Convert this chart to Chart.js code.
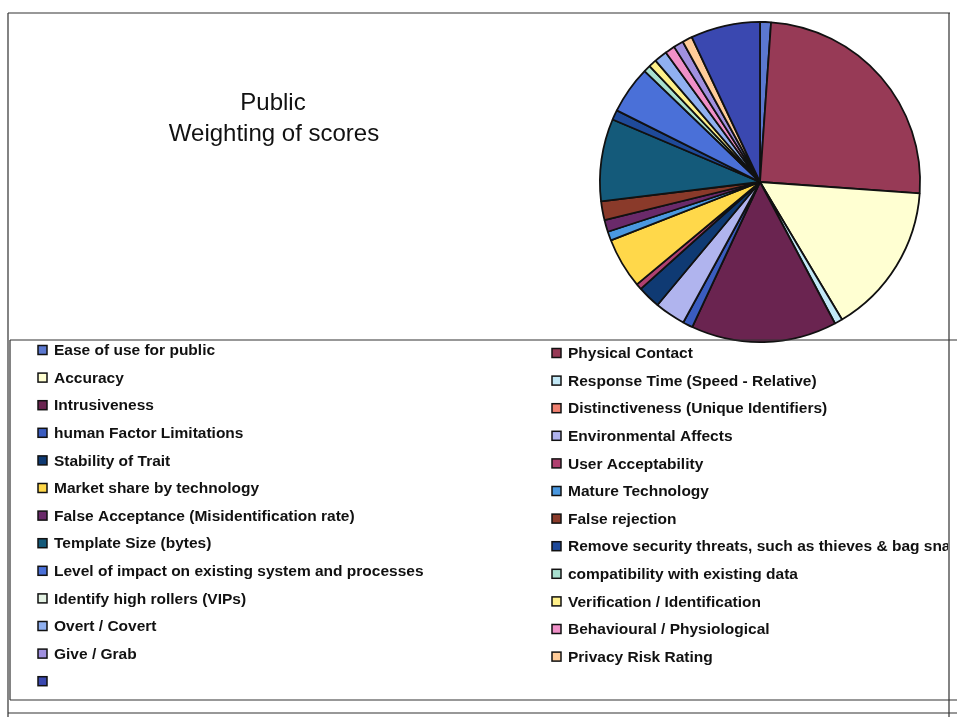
<!DOCTYPE html>
<html>
<head>
<meta charset="utf-8">
<title>Public - Weighting of scores</title>
<script src="https://cdn.jsdelivr.net/npm/chart.js@4/dist/chart.umd.min.js"></script>
<style>
  html, body { margin: 0; padding: 0; background: #fff; }
  #wrap { width: 957px; height: 717px; position: relative; }
</style>
</head>
<body>
<div id="wrap"><canvas id="pie" width="957" height="717"></canvas></div>
<script>
// Criteria, in series order (legend reads row by row, two per row)
const criteria = [
  'Ease of use for public', 'Physical Contact',
  'Accuracy', 'Response Time (Speed - Relative)',
  'Intrusiveness', 'Distinctiveness (Unique Identifiers)',
  'human Factor Limitations', 'Environmental Affects',
  'Stability of Trait', 'User Acceptability',
  'Market share by technology', 'Mature Technology',
  'False Acceptance (Misidentification rate)', 'False rejection',
  'Template Size (bytes)', 'Remove security threats, such as thieves & bag snatchers',
  'Level of impact on existing system and processes', 'compatibility with existing data',
  'Identify high rollers (VIPs)', 'Verification / Identification',
  'Overt / Covert', 'Behavioural / Physiological',
  'Give / Grab', 'Privacy Risk Rating',
  ''
];

// Weighting (% of total score)
const weights = [
  1.1, 25.0,
  15.3, 0.8,
  14.7, 0,
  1.0, 3.1,
  2.3, 0.6,
  5.1, 0.9,
  1.2, 1.9,
  8.3, 1.0,
  4.8, 0.7,
  0, 0.8,
  1.3, 1.0,
  1.0, 1.0,
  7.0
];

const sliceColors = [
  '#5b78d0', '#973a56',
  '#ffffd2', '#c2e8f6',
  '#6a2450', '#f08070',
  '#3a5cc0', '#b0b4ee',
  '#0f3a73', '#b04070',
  '#ffd84a', '#4a98e0',
  '#6a2a6a', '#8a3a2a',
  '#145a7a', '#1f4a9a',
  '#4a70d8', '#a8e0d0',
  '#e4f2e4', '#fff08a',
  '#90b0f0', '#f090c8',
  '#a090e0', '#ffcc99',
  '#3a48b0'
];

const titleLines = ['Public', 'Weighting of scores'];

// frame, title and the two-column legend underneath the pie
const sheetDecor = {
  id: 'sheetDecor',
  beforeDraw(chart) {
    const ctx = chart.ctx;
    ctx.save();
    ctx.fillStyle = '#fff';
    ctx.fillRect(0, 0, chart.width, chart.height);
    ctx.restore();
  },
  afterDraw(chart) {
    const ctx = chart.ctx;
    ctx.save();

    // outer frame and legend box
    ctx.strokeStyle = '#333';
    ctx.lineWidth = 1.2;
    ctx.beginPath();
    ctx.moveTo(8, 13); ctx.lineTo(950, 13);
    ctx.moveTo(8, 13); ctx.lineTo(8, 717);
    ctx.moveTo(949, 13); ctx.lineTo(949, 717);
    ctx.moveTo(10, 340); ctx.lineTo(957, 340);
    ctx.moveTo(10, 340); ctx.lineTo(10, 700);
    ctx.moveTo(10, 700); ctx.lineTo(957, 700);
    ctx.moveTo(8, 713); ctx.lineTo(957, 713);
    ctx.stroke();

    // title
    ctx.fillStyle = '#111';
    ctx.font = '24px "Liberation Sans", Arial, sans-serif';
    ctx.textAlign = 'center';
    ctx.textBaseline = 'middle';
    ctx.fillText(titleLines[0], 273, 103);
    ctx.fillText(titleLines[1], 274, 134);

    // legend
    const labels = chart.data.labels;
    const colors = chart.data.datasets[0].backgroundColor;
    ctx.beginPath();
    ctx.rect(10, 341, 938, 358);
    ctx.clip();
    ctx.font = 'bold 15.5px "Liberation Sans", Arial, sans-serif';
    ctx.textAlign = 'left';
    labels.forEach((label, i) => {
      const col = i % 2;
      const row = Math.floor(i / 2);
      const bx = col === 0 ? 38 : 552;
      const y = (col === 0 ? 350 : 353) + row * 27.6;
      ctx.fillStyle = colors[i];
      ctx.fillRect(bx, y - 4.5, 9, 9);
      ctx.strokeStyle = '#111';
      ctx.lineWidth = 1.5;
      ctx.strokeRect(bx, y - 4.5, 9, 9);
      ctx.fillStyle = '#111';
      ctx.fillText(label, bx + 16, y + 1);
    });
    ctx.restore();
  }
};

new Chart(document.getElementById('pie'), {
  type: 'pie',
  data: {
    labels: criteria,
    datasets: [{
      data: weights,
      backgroundColor: sliceColors,
      borderColor: '#111',
      borderWidth: 1.8
    }]
  },
  options: {
    responsive: false,
    devicePixelRatio: 1,
    animation: false,
    layout: {
      padding: { left: 599, right: 36, top: 21, bottom: 374 }
    },
    plugins: {
      legend: { display: false },
      title: { display: false },
      tooltip: { enabled: false }
    }
  },
  plugins: [sheetDecor]
});
</script>
</body>
</html>
